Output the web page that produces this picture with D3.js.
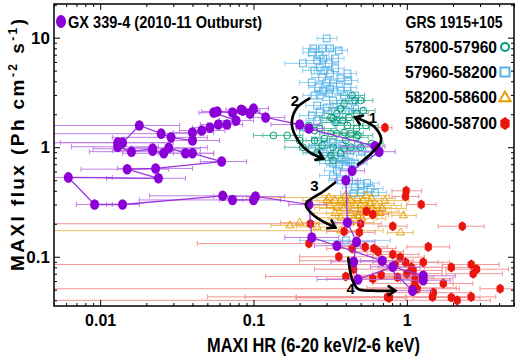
<!DOCTYPE html>
<html><head><meta charset="utf-8">
<script src="https://cdn.jsdelivr.net/npm/d3@7"></script>
<style>body{margin:0;background:#fff}svg{display:block}</style>
</head><body>
<svg id="c" width="520" height="361"></svg>
<script>
// ---------------- DATA ----------------
// GX 339-4 (2010-11 outburst), time-ordered
const gxHR=[1.28,1.28,0.81,0.48,0.45,0.47,0.41,0.40,0.44,0.66,0.62,
 0.23,0.20,0.12,0.10,0.085,0.095,0.083,0.073,0.058,0.055,
 0.077,0.067,0.059,0.052,0.046,0.040,0.040,0.029,0.025,0.018,
 0.014,0.013,0.013,0.016,0.022,0.022,0.026,0.028,0.036,0.040,
 0.062,0.023,0.015,0.024,0.0062,0.0092,0.014,0.063,0.073,0.10,0.103,
 0.23,0.24,0.35,0.69,1.09];
const gxFlux=[0.061,0.067,0.081,0.062,0.090,0.137,0.205,0.50,0.61,0.91,1.02,
 1.48,1.61,1.87,2.25,2.16,2.03,2.2,2.07,2.12,2.07,
 1.75,1.61,1.61,1.51,1.42,1.36,1.15,1.23,1.33,1.58,
 1.10,1.10,1.01,0.91,0.97,0.93,0.88,0.99,0.88,0.88,
 0.74,0.64,0.63,0.52,0.53,0.30,0.30,0.36,0.33,0.33,0.355,
 0.30,0.15,0.126,0.092,0.049];
const gxLo=[0.91,0.84,0.58,0.26,0.32,0.37,0.34,0.34,0.37,0.40,0.37,
 0.19,0.13,0.095,0.08,0.07,0.075,0.066,0.058,0.046,0.044,
 0.06,0.05,0.045,0.04,0.033,0.03,0.028,0.012,0.005,0.004,
 0.0055,0.005,0.0065,0.0085,0.009,0.012,0.014,0.016,0.024,0.03,
 0.045,0.013,0.0075,0.011,0.004,0.007,0.011,0.021,0.018,0.06,0.055,
 0.17,0.16,0.25,0.50,0.80];
const gxHi=[1.92,2.07,1.22,1.05,0.67,0.62,0.50,0.48,0.53,0.84,0.72,
 0.29,0.27,0.16,0.125,0.11,0.12,0.105,0.092,0.073,0.07,
 0.10,0.085,0.075,0.07,0.065,0.055,0.06,0.05,0.045,0.033,
 0.03,0.028,0.024,0.03,0.045,0.04,0.045,0.05,0.055,0.055,
 0.09,0.04,0.028,0.036,0.012,0.012,0.018,0.10,0.085,0.15,0.16,
 0.30,0.36,0.50,0.95,1.45];

// GRS 1915+105, MJD 57800-57960 (circles)
const grnHR=[0.46,0.39,0.37,0.35,0.33,0.32,0.34,0.38,0.42,0.47,
 0.52,0.41,0.47,0.48,0.47,0.43,0.39,0.35,0.32,0.27,
 0.25,0.23,0.166,0.135,0.21,0.20,0.25,0.28,0.33,0.39,
 0.43,0.50,0.37,0.32,0.33,0.26,0.59,0.44,0.50,0.40,0.29,0.54];
const grnFlux=[2.67,2.5,2.25,2.03,1.83,1.87,1.68,1.75,1.87,2.03,
 2.16,1.58,1.48,1.28,1.23,1.33,1.36,1.33,1.33,1.48,
 1.42,1.58,1.28,1.28,1.0,1.15,1.15,1.04,1.0,0.97,
 1.0,1.0,0.88,0.84,0.76,0.89,1.08,2.97,2.67,1.15,1.2,1.58];
const grnLo=[0.40,0.33,0.31,0.29,0.28,0.27,0.28,0.32,0.35,0.40,
 0.44,0.34,0.39,0.40,0.40,0.36,0.33,0.29,0.27,0.21,
 0.20,0.19,0.115,0.10,0.16,0.16,0.21,0.23,0.27,0.33,
 0.36,0.42,0.31,0.26,0.27,0.21,0.50,0.37,0.42,0.34,0.24,0.45];
const grnHi=[0.53,0.47,0.45,0.42,0.40,0.38,0.41,0.45,0.50,0.56,
 0.62,0.49,0.57,0.60,0.56,0.52,0.47,0.42,0.38,0.35,
 0.32,0.28,0.21,0.20,0.27,0.25,0.30,0.34,0.40,0.47,
 0.52,0.60,0.45,0.39,0.40,0.32,0.70,0.53,0.60,0.48,0.35,0.65];

// GRS 1915+105, MJD 57960-58200 (squares)
const bluHR=[0.30,0.245,0.24,0.28,0.316,0.36,0.26,0.285,0.31,0.27,
 0.29,0.316,0.28,0.30,0.33,0.265,0.285,0.31,0.41,0.415,
 0.41,0.37,0.46,0.44,0.33,0.37,0.34,0.27,0.26,0.30,
 0.21,0.24,0.26,0.22,0.27,0.34,0.25,0.34,0.37,0.24,
 0.39,0.316,0.25,0.35,0.40,0.46,0.27,0.265,0.29,0.316,
 0.34,0.37,0.40,0.43,0.46,0.36,0.40,0.31,0.27,0.51,
 0.48,0.56,0.43,0.38,0.33,0.24,0.33,0.35,0.37,0.50,
 0.55,0.46,0.58,0.62,0.50,0.45,0.42,0.33,0.40];
const bluFlux=[9.85,7.98,7.33,7.98,7.98,7.64,6.19,6.45,5.82,5.35,
 5.02,4.71,4.33,3.9,3.82,3.51,3.29,3.1,4.71,4.06,
 3.51,3.29,2.97,2.67,2.67,2.5,2.16,2.97,2.4,2.3,
 5.82,1.95,1.75,1.51,6.88,6.45,5.02,5.25,4.25,3.9,
 2.97,3.43,2.97,1.75,2.16,2.25,2.07,1.15,1.04,0.93,
 0.84,0.79,0.756,0.725,0.71,0.68,0.68,0.756,0.89,0.93,
 1.04,0.84,0.93,1.04,1.1,0.97,0.71,0.61,0.497,0.46,
 0.47,0.43,0.42,0.385,0.385,0.38,0.497,0.552,0.141];
const bluLo=[0.26,0.21,0.21,0.24,0.27,0.31,0.22,0.25,0.27,0.23,
 0.25,0.27,0.24,0.26,0.28,0.23,0.25,0.27,0.35,0.36,
 0.35,0.32,0.40,0.38,0.28,0.32,0.29,0.23,0.22,0.26,
 0.16,0.20,0.22,0.19,0.23,0.29,0.21,0.29,0.32,0.20,
 0.34,0.27,0.21,0.30,0.34,0.40,0.23,0.22,0.24,0.26,
 0.28,0.31,0.33,0.36,0.38,0.30,0.33,0.26,0.22,0.43,
 0.40,0.47,0.36,0.32,0.28,0.20,0.27,0.29,0.31,0.42,
 0.46,0.38,0.48,0.52,0.42,0.37,0.35,0.27,0.20];
const bluHi=[0.35,0.28,0.28,0.32,0.37,0.41,0.30,0.33,0.36,0.31,
 0.33,0.36,0.32,0.35,0.38,0.31,0.33,0.36,0.47,0.48,
 0.47,0.43,0.53,0.51,0.38,0.43,0.39,0.31,0.30,0.35,
 0.27,0.28,0.30,0.26,0.31,0.39,0.29,0.39,0.43,0.28,
 0.45,0.36,0.29,0.40,0.46,0.53,0.31,0.32,0.35,0.38,
 0.41,0.44,0.48,0.52,0.55,0.43,0.48,0.37,0.33,0.61,
 0.58,0.67,0.52,0.46,0.40,0.29,0.40,0.42,0.44,0.60,
 0.66,0.55,0.70,0.74,0.60,0.54,0.50,0.40,0.78];

// GRS 1915+105, MJD 58200-58600 (triangles)
const orHR=[0.31,0.34,0.385,0.43,0.475,0.52,0.58,0.64,0.69,0.62,
 0.55,0.48,0.43,0.385,0.35,0.316,0.37,0.45,0.50,0.41,
 0.55,0.60,0.30,0.40,0.54,0.46,0.50,0.72,0.43,0.34,
 0.51,0.37,0.59,0.67,0.91,0.95,0.26,0.20,0.37,0.173];
const orFlux=[0.347,0.326,0.313,0.326,0.34,0.326,0.306,0.294,0.276,0.257,
 0.25,0.238,0.25,0.276,0.281,0.294,0.227,0.223,0.294,0.306,
 0.281,0.276,0.326,0.362,0.362,0.294,0.264,0.326,0.205,0.25,
 0.223,0.326,0.34,0.25,0.166,0.238,0.187,0.205,0.173,0.193];
const orLo=[0.09,0.24,0.27,0.30,0.33,0.36,0.41,0.45,0.48,0.43,
 0.38,0.34,0.30,0.27,0.25,0.22,0.26,0.31,0.35,0.29,
 0.38,0.42,0.21,0.28,0.38,0.32,0.35,0.50,0.30,0.24,
 0.36,0.26,0.41,0.47,0.75,0.80,0.19,0.15,0.004,0.13];
const orHi=[0.44,0.49,0.55,0.61,0.68,0.74,0.83,0.92,0.99,0.89,
 0.79,0.69,0.61,0.55,0.50,0.45,0.53,0.64,0.72,0.59,
 0.79,0.86,0.43,0.57,0.77,0.66,0.72,1.03,0.61,0.49,
 0.73,0.53,0.84,0.96,1.10,1.15,0.35,0.27,0.70,0.24];

// GRS 1915+105, MJD 58600-58700 (filled hexagons)
const rdHR=[0.99,0.98,1.24,0.545,0.60,0.235,0.50,0.81,2.3,0.39,
 0.49,0.23,0.44,0.535,0.61,0.65,1.38,0.36,0.81,0.905,
 0.70,0.84,0.98,1.28,1.07,1.10,1.95,2.63,2.85,2.71,
 0.40,0.60,0.68,0.87,1.0,1.13,1.73,1.13,1.10,1.17,
 1.49,1.47,0.76,1.95,2.13,2.63,4.06,0.45,0.72,0.75,0.77];
const rdFlux=[0.40,0.355,0.30,0.26,0.243,0.20,0.20,0.19,0.19,0.17,
 0.167,0.132,0.119,0.123,0.119,0.111,0.123,0.10,0.105,0.099,
 0.092,0.085,0.089,0.089,0.08,0.075,0.08,0.085,0.077,0.07,
 0.066,0.063,0.068,0.065,0.07,0.063,0.057,0.057,0.052,0.051,
 0.047,0.043,0.0425,0.0425,0.040,0.043,0.051,0.077,1.51,0.0428,0.0422];
const rdLo=[0.80,0.80,1.0,0.42,0.47,0.004,0.38,0.65,1.6,0.30,
 0.38,0.043,0.30,0.38,0.42,0.45,1.0,0.20,0.55,0.60,
 0.20,0.004,0.60,0.85,0.65,0.70,1.3,1.7,1.8,1.8,
 0.12,0.30,0.40,0.50,0.60,0.65,1.1,0.60,0.55,0.004,
 0.80,0.05,0.19,1.1,0.004,0.088,3.0,0.25,0.65,0.19,0.19];
const rdHi=[1.25,1.20,1.55,0.70,0.76,0.45,0.68,1.0,3.2,0.50,
 0.62,0.45,0.65,0.75,0.85,0.95,1.9,0.60,1.2,1.3,
 1.1,1.3,1.6,1.9,1.7,1.7,2.9,4.0,4.6,4.2,
 0.85,1.1,1.2,1.5,1.7,2.0,2.7,2.0,2.1,2.2,
 2.6,2.5,1.0,3.0,3.5,3.8,5.5,0.75,0.80,0.98,0.98];

// axis ticks
const xMajor=[0.01,0.1,1], xTickLabels=["0.01","0.1","1"];
const yMajor=[0.1,1,10],   yTickLabels=["0.1","1","10"];
const legendLabels=["57800-57960","57960-58200","58200-58600","58600-58700"];

// annotation arrows (HR, flux) and their labels
const arrowPaths=[
 [[0.48,0.695],[0.595,0.895],[0.68,1.15],[0.63,1.48],[0.536,1.72],[0.46,1.87]],
 [[0.231,2.78],[0.19,2.25],[0.178,1.58],[0.2,1.10],[0.234,0.894],[0.285,0.79]],
 [[0.341,0.476],[0.29,0.40],[0.22,0.30],[0.25,0.235],[0.341,0.185]],
 [[0.415,0.097],[0.44,0.062],[0.48,0.051],[0.60,0.049],[0.84,0.049]]];
const arrowLabels=["1","2","3","4"];
const arrowLabelPos=[[0.60,1.87],[0.186,2.67],[0.25,0.45],[0.43,0.051]];

// ---------------- DRAW ----------------
const NARROW="'Liberation Sans Narrow','Arial Narrow','Liberation Sans',Arial,sans-serif";
const SANS="'Liberation Sans',Arial,Helvetica,sans-serif";
const svg=d3.select("#c");
const L=54,R=514,T=4,B=306;
const x=d3.scaleLog().domain([0.005,5]).range([L,R]);
const y=d3.scaleLog().domain([0.0355,20.3]).range([B,T]);

svg.append("defs").append("clipPath").attr("id","clip")
  .append("rect").attr("x",L).attr("y",T).attr("width",R-L).attr("height",B-T);
const plot=svg.append("g").attr("clip-path","url(#clip)");

function errBars(hr,fl,lo,hi,color,op){
  const g=plot.append("g").attr("stroke",color).attr("stroke-width",1).attr("opacity",op).attr("fill","none");
  const d=d3.range(hr.length);
  g.selectAll("line.h").data(d).join("line").attr("class","h")
    .attr("x1",i=>x(lo[i])).attr("x2",i=>x(hi[i])).attr("y1",i=>y(fl[i])).attr("y2",i=>y(fl[i]));
  g.selectAll("line.a").data(d).join("line").attr("class","a")
    .attr("x1",i=>x(lo[i])).attr("x2",i=>x(lo[i])).attr("y1",i=>y(fl[i])-2.5).attr("y2",i=>y(fl[i])+2.5);
  g.selectAll("line.b").data(d).join("line").attr("class","b")
    .attr("x1",i=>x(hi[i])).attr("x2",i=>x(hi[i])).attr("y1",i=>y(fl[i])-2.5).attr("y2",i=>y(fl[i])+2.5);
}
const cGreen="#009E73", cBlue="#56B4E9", cOrange="#E69F00", cRed="#e8160e", cPurple="#8a00d6";

errBars(bluHR,bluFlux,bluLo,bluHi,"#7cc4ee",0.8);
errBars(grnHR,grnFlux,grnLo,grnHi,"#3db08e",0.8);
errBars(orHR,orFlux,orLo,orHi,"#eab040",0.8);
errBars(rdHR,rdFlux,rdLo,rdHi,"#ee6a6a",0.7);

function hexPath(cx,cy,r){
  const pts=d3.range(6).map(k=>{const a=Math.PI/6+k*Math.PI/3;return [cx+r*0.9*Math.cos(a),cy+r*1.1*Math.sin(a)];});
  return "M"+pts.map(p=>p.join(",")).join("L")+"Z";
}
const tri=d3.symbol().type(d3.symbolTriangle).size(28);

plot.append("g").selectAll("rect").data(d3.range(bluHR.length)).join("rect")
  .attr("x",i=>x(bluHR[i])-3.4).attr("y",i=>y(bluFlux[i])-3.4).attr("width",6.8).attr("height",6.8)
  .attr("fill","none").attr("stroke",cBlue).attr("stroke-width",1);
plot.append("g").selectAll("circle").data(d3.range(grnHR.length)).join("circle")
  .attr("cx",i=>x(grnHR[i])).attr("cy",i=>y(grnFlux[i])).attr("r",3.4)
  .attr("fill","none").attr("stroke",cGreen).attr("stroke-width",1);
plot.append("g").selectAll("path").data(d3.range(orHR.length)).join("path")
  .attr("transform",i=>`translate(${x(orHR[i])},${y(orFlux[i])})`).attr("d",tri)
  .attr("fill","none").attr("stroke",cOrange).attr("stroke-width",1);
plot.append("g").selectAll("path").data(d3.range(rdHR.length)).join("path")
  .attr("d",i=>hexPath(x(rdHR[i]),y(rdFlux[i]),4.6)).attr("fill",cRed);

// GX 339-4
errBars(gxHR,gxFlux,gxLo,gxHi,"#b56be6",0.85);
plot.append("path").datum(d3.range(gxHR.length))
  .attr("d",d3.line().x(i=>x(gxHR[i])).y(i=>y(gxFlux[i])))
  .attr("fill","none").attr("stroke","#9a34e0").attr("stroke-width",1.3);
plot.append("g").selectAll("ellipse").data(d3.range(gxHR.length)).join("ellipse")
  .attr("cx",i=>x(gxHR[i])).attr("cy",i=>y(gxFlux[i])).attr("rx",4.5).attr("ry",5.3)
  .attr("fill",cPurple);

// arrows
const arrLine=d3.line().x(d=>x(d[0])).y(d=>y(d[1])).curve(d3.curveCatmullRom.alpha(0.5));
arrowPaths.forEach((pts,k)=>{
  const g=svg.append("g").attr("stroke","#000").attr("fill","none").attr("stroke-width",2.7).attr("stroke-linecap","round");
  g.append("path").attr("d",arrLine(pts));
  const p1=pts[pts.length-1], p0=pts[pts.length-2];
  const ex=x(p1[0]), ey=y(p1[1]);
  const ang=Math.atan2(ey-y(p0[1]), ex-x(p0[0]));
  const hl=8, sp=0.6;
  g.append("path").attr("d",`M${ex-hl*Math.cos(ang-sp)},${ey-hl*Math.sin(ang-sp)}L${ex},${ey}L${ex-hl*Math.cos(ang+sp)},${ey-hl*Math.sin(ang+sp)}`);
  svg.append("text").attr("x",x(arrowLabelPos[k][0])).attr("y",y(arrowLabelPos[k][1])+5.5)
    .attr("text-anchor","middle").attr("font-family",SANS).attr("font-weight","bold").attr("font-size",15)
    .text(arrowLabels[k]);
});

// frame
svg.append("rect").attr("x",L).attr("y",T).attr("width",R-L).attr("height",B-T)
  .attr("fill","none").attr("stroke","#000").attr("stroke-width",1.5);

// ticks
const xMinor=[], yMinor=[];
[0.001,0.01,0.1,1].forEach(d=>{for(let m=2;m<=9;m++){const v=d*m; if(v>=0.005&&v<=5) xMinor.push(v);}});
[0.01,0.1,1,10].forEach(d=>{for(let m=2;m<=9;m++){const v=d*m; if(v>=0.0355&&v<=20.3) yMinor.push(v);}});
function axes(axisFn,scale,major,minor,labels,tr,big,small,fmt){
  const gM=svg.append("g").attr("transform",tr).call(axisFn(scale).tickValues(major).tickSize(-big).tickPadding(big+6).tickFormat((d,i)=>fmt?labels[i]:""));
  const gm=svg.append("g").attr("transform",tr).call(axisFn(scale).tickValues(minor).tickSize(-small).tickFormat(""));
  [gM,gm].forEach(g=>{g.select(".domain").remove();g.selectAll("line").attr("stroke","#000").attr("stroke-width",1);});
  return gM;
}
const gxb=axes(d3.axisBottom,x,xMajor,xMinor,xTickLabels,`translate(0,${B})`,6,3,true);
gxb.selectAll("text").attr("font-family",NARROW).attr("font-weight","bold").attr("font-size",16).attr("fill","#000").attr("dy","0.71em").attr("y",9);
axes(d3.axisTop,x,xMajor,xMinor,xTickLabels,`translate(0,${T})`,6,3,false);
const gyl=axes(d3.axisLeft,y,yMajor,yMinor,yTickLabels,`translate(${L},0)`,6,3,true);
gyl.selectAll("text").attr("font-family",NARROW).attr("font-weight","bold").attr("font-size",17).attr("fill","#000").attr("x",-4);
axes(d3.axisRight,y,yMajor,yMinor,yTickLabels,`translate(${R},0)`,6,3,false);

// axis titles
svg.append("text").attr("x",313.5).attr("y",352).attr("text-anchor","middle")
  .attr("font-family",NARROW).attr("font-weight","bold").attr("font-size",20)
  .attr("textLength",213).attr("lengthAdjust","spacingAndGlyphs")
  .text("MAXI HR (6-20 keV/2-6 keV)");
const yt=svg.append("text").attr("transform","translate(24,145) rotate(-90)").attr("text-anchor","middle")
  .attr("font-family",SANS).attr("font-weight","bold").attr("font-size",19)
  .attr("textLength",252).attr("lengthAdjust","spacing");
yt.append("tspan").text("MAXI flux (Ph cm");
yt.append("tspan").attr("dy",-7).attr("font-size",12).text("-2");
yt.append("tspan").attr("dy",7).text(" s");
yt.append("tspan").attr("dy",-7).attr("font-size",12).text("-1");
yt.append("tspan").attr("dy",7).text(")");

// legends
svg.append("ellipse").attr("cx",61).attr("cy",21.5).attr("rx",5).attr("ry",6.5).attr("fill",cPurple);
svg.append("text").attr("x",68).attr("y",27.5).attr("font-family",NARROW).attr("font-weight","bold").attr("font-size",17)
  .attr("textLength",194).attr("lengthAdjust","spacingAndGlyphs").text("GX 339-4 (2010-11 Outburst)");
svg.append("text").attr("x",454).attr("y",28).attr("text-anchor","middle").attr("font-family",NARROW).attr("font-weight","bold").attr("font-size",16)
  .attr("textLength",97).attr("lengthAdjust","spacingAndGlyphs").text("GRS 1915+105");
const rowY=[53,78,103,129];
legendLabels.forEach((t,i)=>{
  svg.append("text").attr("x",405).attr("y",rowY[i]).attr("font-family",NARROW).attr("font-weight","bold").attr("font-size",16.5)
    .attr("textLength",92).attr("lengthAdjust","spacingAndGlyphs").text(t);
});
const sx=505;
svg.append("circle").attr("cx",sx).attr("cy",rowY[0]-6).attr("r",4).attr("fill","none").attr("stroke",cGreen).attr("stroke-width",2);
svg.append("rect").attr("x",sx-4.5).attr("y",rowY[1]-10.5).attr("width",9).attr("height",9).attr("fill","none").attr("stroke",cBlue).attr("stroke-width",2);
svg.append("path").attr("transform",`translate(${sx},${rowY[2]-5})`).attr("d",d3.symbol().type(d3.symbolTriangle).size(55))
  .attr("fill","none").attr("stroke",cOrange).attr("stroke-width",2);
svg.append("path").attr("d",hexPath(sx,rowY[3]-5.5,6)).attr("fill",cRed);
</script>
</body></html>
